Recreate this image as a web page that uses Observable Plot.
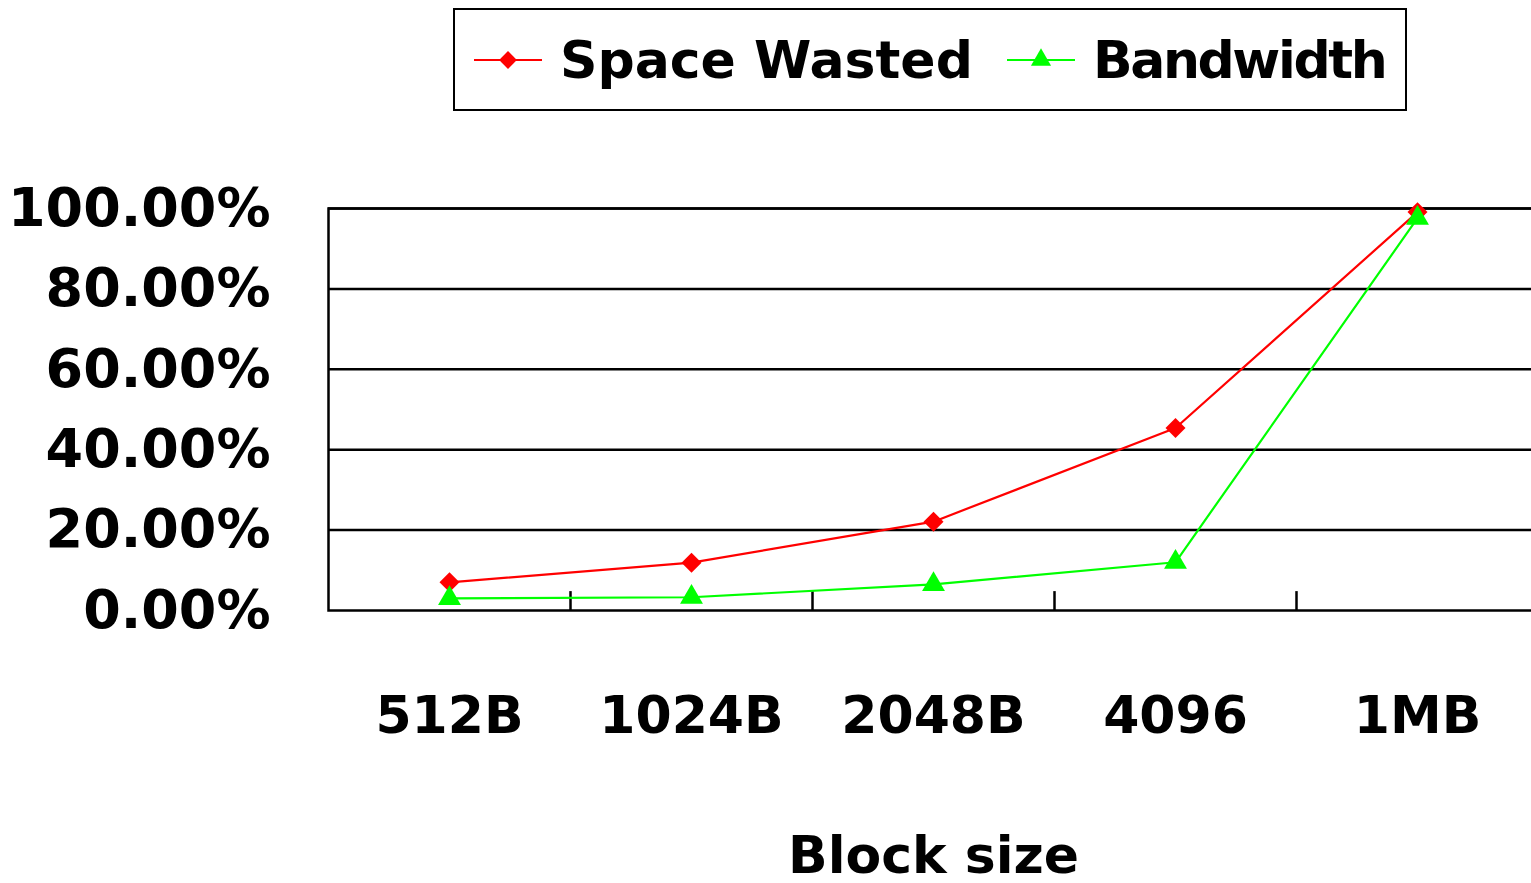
<!DOCTYPE html>
<html>
<head>
<meta charset="utf-8">
<script src="https://cdn.jsdelivr.net/npm/d3@7"></script>
<script src="https://cdn.jsdelivr.net/npm/@observablehq/plot@0.6"></script>
<style>
  body { margin: 0; background: #fff; }
  #wrap { position: relative; width: 1531px; height: 883px; overflow: hidden; font-family: "DejaVu Sans", sans-serif; font-weight: bold; }
  #legend { position: absolute; left: 453px; top: 8px; width: 954px; height: 103px; border: 2px solid #000; box-sizing: border-box; background: #fff; }
  .item { position: absolute; top: 0; height: 99px; display: flex; align-items: center; }
  .item span { font-size: 52px; line-height: 1; margin-left: 18px; color: #000; white-space: nowrap; }
</style>
</head>
<body>
<div id="wrap"></div>
<script>
const categories = ["512B", "1024B", "2048B", "4096", "1MB"];
const spaceWasted = [0.07, 0.119, 0.221, 0.454, 0.991];
const bandwidth = [0.03, 0.033, 0.065, 0.12, 0.976];
const yTicks = [0, 0.2, 0.4, 0.6, 0.8, 1];
const seriesNames = ["Space Wasted", "Bandwidth"];
const seriesColors = ["#ff0000", "#00ff00"];
const seriesSymbols = ["diamond2", "triangle"];
const xTitle = "Block size";

const W = 1531, H = 883, mL = 328, mR = -7, mT = 208, mB = 273;
const step = (W - mL - mR) / categories.length;

const swData = categories.map((c, i) => ({cat: c, v: spaceWasted[i]}));
const bwData = categories.map((c, i) => ({cat: c, v: bandwidth[i]}));

const chart = Plot.plot({
  width: W, height: H,
  marginLeft: mL, marginRight: mR, marginTop: mT, marginBottom: mB,
  style: {fontFamily: "'DejaVu Sans', sans-serif", fontWeight: "bold", color: "#000", background: "transparent", maxWidth: "none"},
  x: {type: "point", domain: categories, padding: 0.5},
  y: {domain: [0, 1]},
  marks: [
    Plot.ruleY(yTicks.slice(1), {stroke: "#000", strokeWidth: 2.5}),
    Plot.frame({stroke: "#000", strokeWidth: 2.5}),
    Plot.ruleX(categories.slice(1), {x: d => d, y1: 0, y2: 0.047, dx: -step / 2, stroke: "#000", strokeWidth: 2.5}),
    Plot.line(swData, {x: "cat", y: "v", stroke: seriesColors[0], strokeWidth: 2.2}),
    Plot.dot(swData, {x: "cat", y: "v", symbol: seriesSymbols[0], fill: seriesColors[0], r: 9}),
    Plot.line(bwData, {x: "cat", y: "v", stroke: seriesColors[1], strokeWidth: 2.2}),
    Plot.dot(bwData, {x: "cat", y: "v", symbol: seriesSymbols[1], fill: seriesColors[1], r: 8.5}),
    Plot.axisY(yTicks, {tickSize: 0, tickPadding: 58, tickFormat: d3.format(".2%"), fontSize: 54, label: null}),
    Plot.axisX(categories, {tickSize: 0, tickPadding: 86, fontSize: 52, label: null}),
    Plot.text([xTitle], {frameAnchor: "bottom", lineAnchor: "bottom", dy: 262, fontSize: 52, fill: "#000"})
  ]
});
const wrap = document.getElementById("wrap");
wrap.appendChild(chart);

// legend
const legend = document.createElement("div");
legend.id = "legend";
const itemLefts = [19, 552];
const spacing = ["0px", "-2.4px"];
seriesNames.forEach((name, i) => {
  const item = document.createElement("div");
  item.className = "item";
  item.style.left = itemLefts[i] + "px";
  const sym = d3.symbol(i === 0 ? d3.symbolDiamond2 : d3.symbolTriangle, Math.PI * (i === 0 ? 64 : 56))();
  item.innerHTML = `<svg width="68" height="30" viewBox="0 0 68 30"><line x1="0" x2="68" y1="15" y2="15" stroke="${seriesColors[i]}" stroke-width="2.2"/><path d="${sym}" transform="translate(34,15)" fill="${seriesColors[i]}"/></svg><span style="letter-spacing:${spacing[i]}">${name}</span>`;
  legend.appendChild(item);
});
wrap.appendChild(legend);
</script>
</body>
</html>
